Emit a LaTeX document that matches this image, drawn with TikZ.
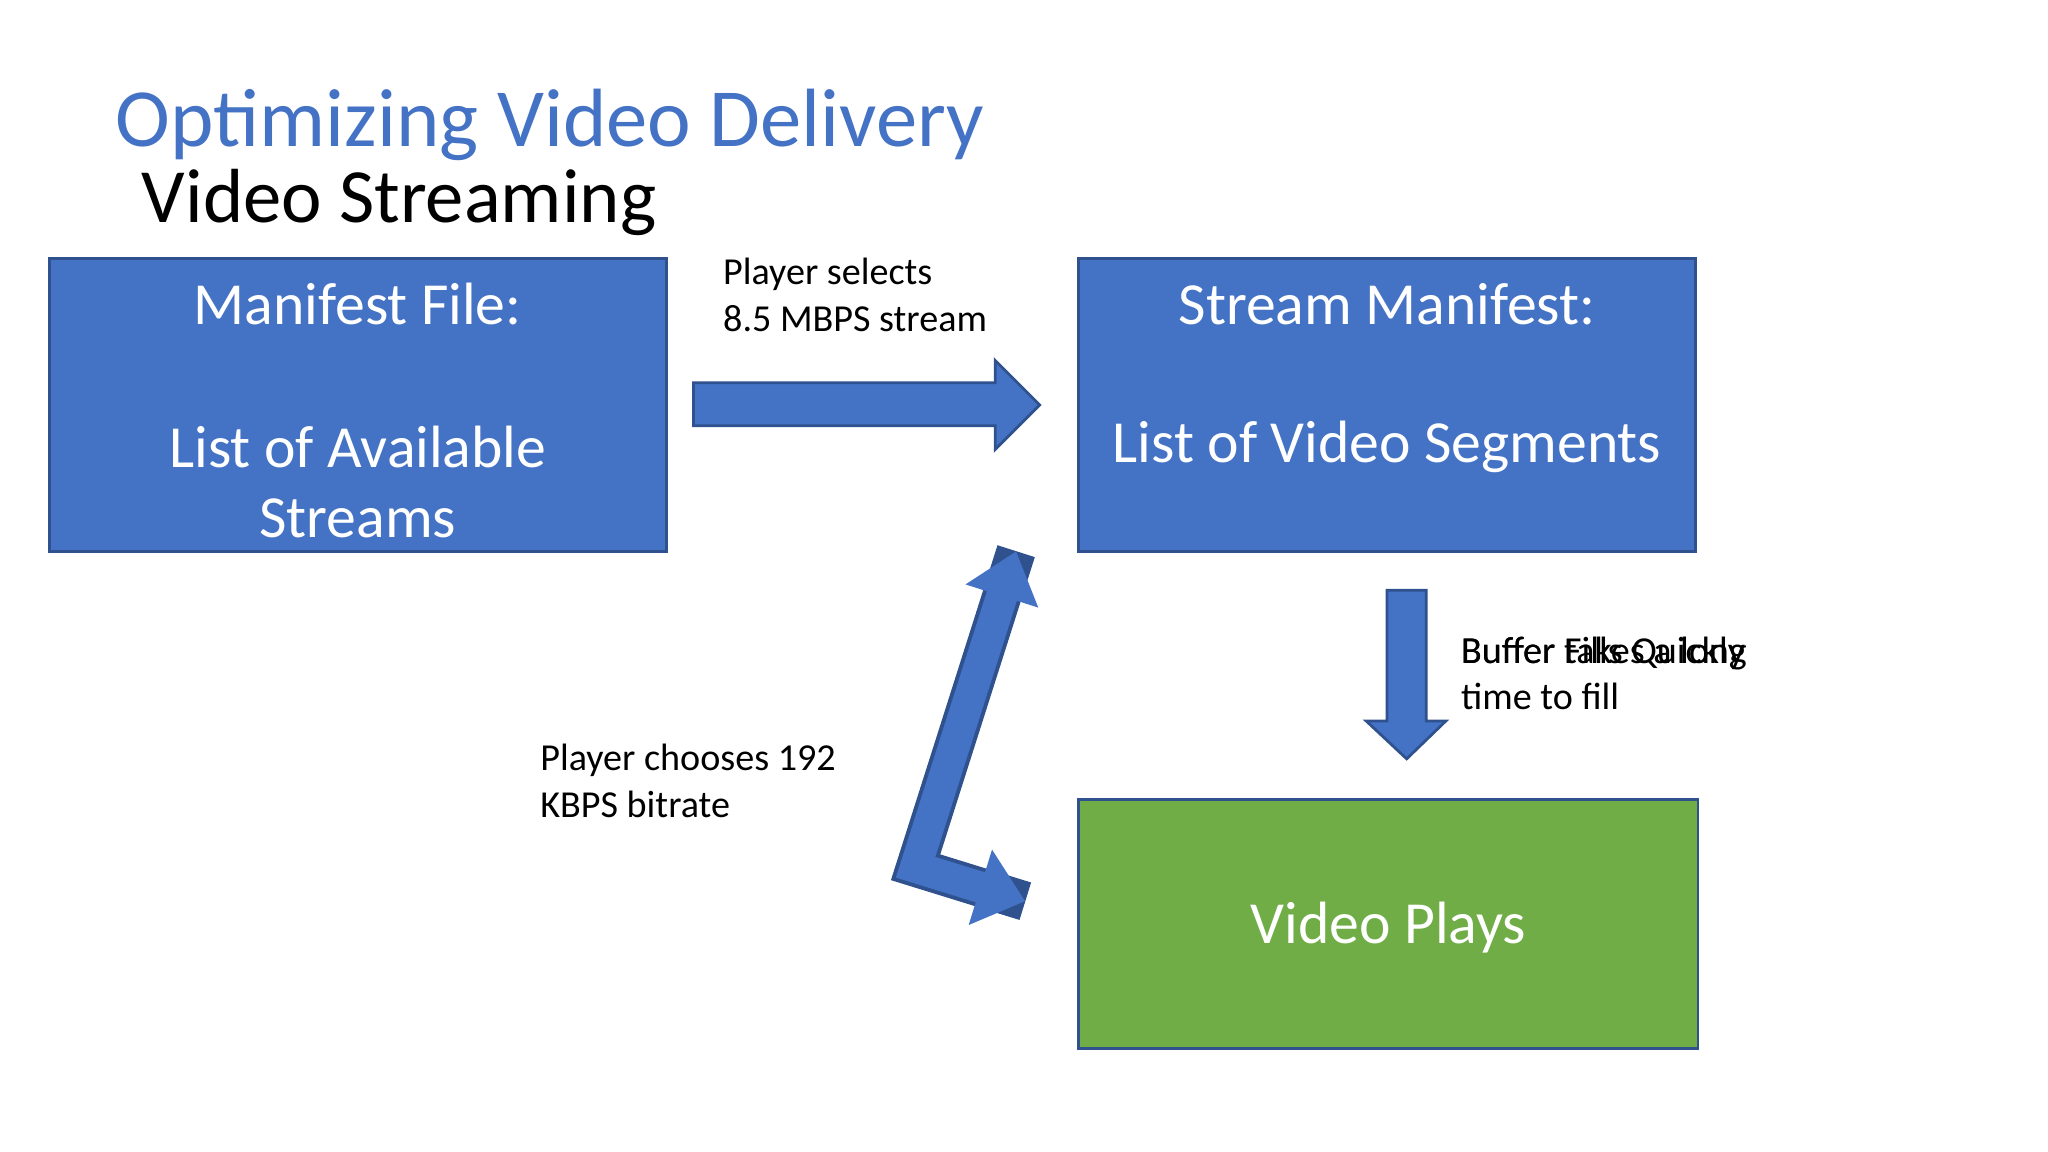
\documentclass[tikz,border=0pt]{standalone}
\usepackage{fontspec}
\setmainfont{Carlito}
\usetikzlibrary{arrows.meta}
\definecolor{bl}{RGB}{68,114,196}
\definecolor{bd}{RGB}{47,82,143}
\definecolor{gr}{RGB}{112,173,71}
\begin{document}
\begin{tikzpicture}[x=0.01cm,y=-0.01cm,
  box/.style={fill=bl,draw=bd,line width=0.6pt},
  btxt/.style={text=white,font=\fontsize{13}{15}\selectfont},
  lbl/.style={anchor=base west,font=\fontsize{8.3}{10}\selectfont,inner sep=0}]
\useasboundingbox (0,0) rectangle (1568,882);
\node[anchor=base west,inner sep=0,text=bl,font=\fontsize{18}{21}\selectfont] (t) at (88,112) {Optimizing Video Delivery};
\node[anchor=base west,inner sep=0,font=\fontsize{16.7}{20}\selectfont] (s) at (108,170) {Video Streaming};
\draw[box] (38,198) rectangle (510,422) coordinate (b1);
\node[btxt] (m1) at (274,233) {Manifest File:};
\node[btxt] (m2) at (274,342) {List of Available};
\node[btxt] (m3) at (274,397) {Streams};
\draw[box] (826,198) rectangle (1298,422);
\node[btxt] (n1) at (1062,233) {Stream Manifest:};
\node[btxt] (n2) at (1062,342) {List of Video Segments};
\draw[box,fill=gr] (826,612) rectangle (1300,803);
\node[btxt] (v) at (1063,710) {Video Plays};
% right arrow
\draw[box] (531,293) -- (762,293) -- (762,276) -- (796,310) -- (762,344) -- (762,326) -- (531,326) -- cycle;
% down arrow
\draw[box] (1062,452) -- (1092,452) -- (1092,552) -- (1107,552) -- (1077,581) -- (1046,552) -- (1062,552) -- cycle;
% bent double arrow
\coordinate (p1) at (778,422);
\coordinate (p2) at (701,664);
\coordinate (p3) at (785,690);
\draw[bd,line width=0.30cm,line join=miter] (p1) -- (p2) -- (p3);
\draw[bl,line width=0.24cm,line join=miter,{Triangle[length=0.36cm,width=0.56cm]}-{Triangle[length=0.36cm,width=0.58cm]}] (p1) -- (p2) -- (p3);
\node[lbl] (a1) at (553,218) {Player selects};
\node[lbl] (a2) at (553,254) {8.5 MBPS stream};
\node[lbl] (c1) at (413,590) {Player chooses 192};
\node[lbl] (c2) at (413,626) {KBPS bitrate};
\node[lbl] (d1) at (1118,508) {Buffer takes a long};
\node[lbl] (d3) at (1118,508) {Buffer Fills Quickly};
\node[lbl] (d2) at (1118,543) {time to fill};
\end{tikzpicture}
\end{document}
